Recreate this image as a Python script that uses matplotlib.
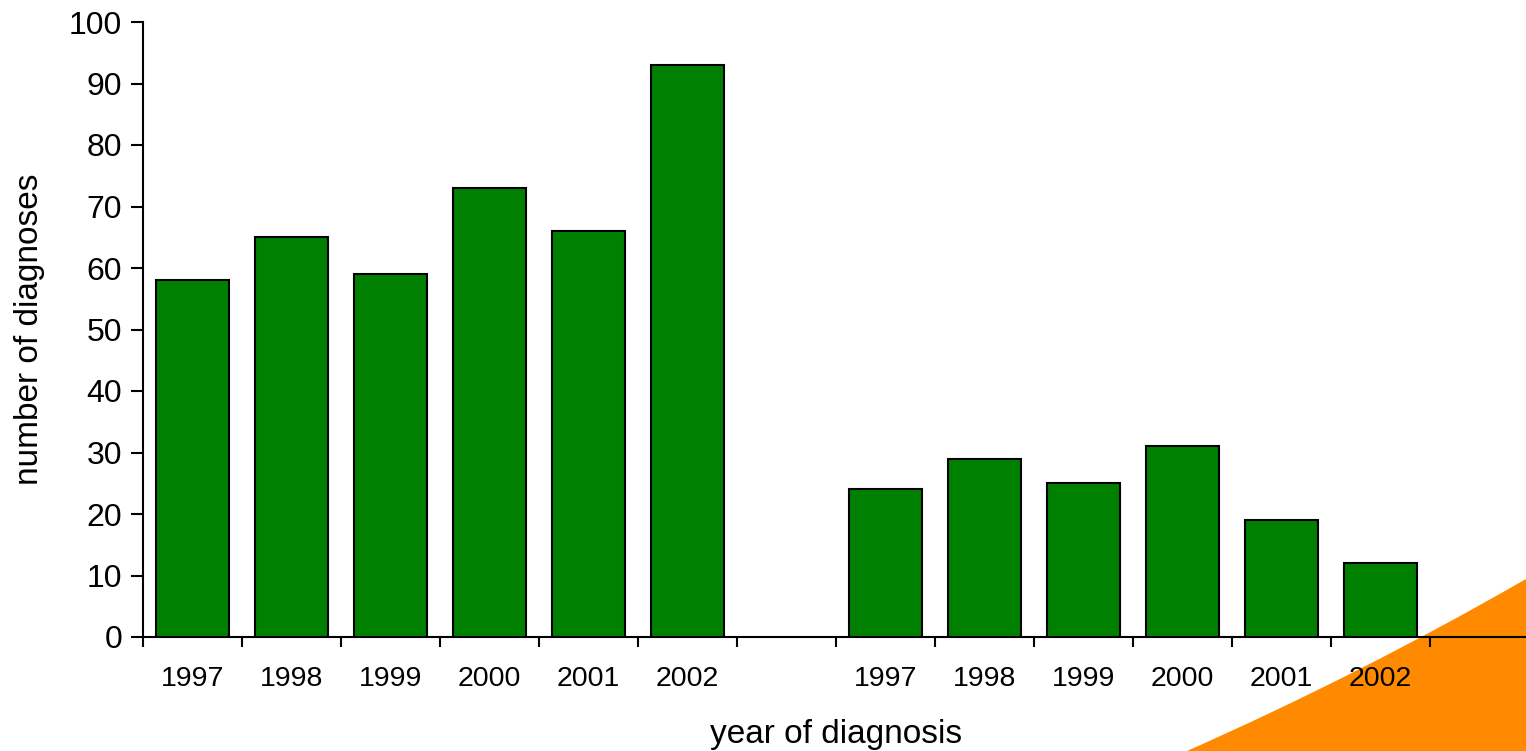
import matplotlib

matplotlib.use("Agg")
import matplotlib.pyplot as plt
import numpy as np
from matplotlib.patches import PathPatch
from matplotlib.path import Path

plt.rcParams["font.family"] = ["Liberation Sans", "DejaVu Sans"]

# two groups of years, separated by an empty slot
years = ["1997", "1998", "1999", "2000", "2001", "2002"]
group_a = [58, 65, 59, 73, 66, 93]
group_b = [24, 29, 25, 31, 19, 12]

W, H = 1526, 751
fig = plt.figure(figsize=(W / 100, H / 100), dpi=100)
ax = fig.add_axes([143 / W, 1 - 637 / H, 1 - 143 / W, (637 - 22) / H])
ax.set_facecolor("none")

labels = years + [""] + years
values = group_a + [np.nan] + group_b
x = np.arange(len(labels))
ax.bar(x, values, width=0.73, color="#008000", edgecolor="black",
       linewidth=1.5, zorder=3)

n = len(labels)
ax.set_xlim(-0.5, n - 0.5 + 96 / 99)
ax.set_ylim(0, 100)
ax.set_yticks(np.arange(0, 101, 10))
ax.set_xticks(np.arange(-0.5, n, 1.0))
ax.set_xticklabels([])
ax.set_xticks(x, minor=True)
ax.set_xticklabels(labels, minor=True, fontsize=20.5)
ax.tick_params(axis="x", which="minor", length=0, pad=21)
ax.tick_params(axis="x", which="major", direction="out", length=7, width=1.5)
ax.tick_params(axis="y", direction="out", length=9, width=1.5, labelsize=23, pad=6)

for side in ("top", "right"):
    ax.spines[side].set_visible(False)
for side in ("left", "bottom"):
    ax.spines[side].set_linewidth(1.5)

ax.set_ylabel("number of diagnoses", fontsize=24)
ax.yaxis.set_label_coords(-(143 - 30) / (W - 143), 0.5)
ax.set_xlabel("year of diagnosis", fontsize=24)
ax.xaxis.set_label_coords((836 - 143) / (W - 143), -(719 - 637) / (637 - 22))
ax.yaxis.label.set_va("center")

# decorative orange corner shape (figure pixel coords)
verts = [(1187, 751), (1361, 674), (1526, 579), (1526, 751), (1187, 751)]
codes = [Path.MOVETO, Path.CURVE3, Path.CURVE3, Path.LINETO, Path.CLOSEPOLY]
verts = [(vx / W, 1 - vy / H) for vx, vy in verts]
corner = PathPatch(Path(verts, codes), facecolor="#FF8A00", edgecolor="none",
                   transform=fig.transFigure, zorder=-1)
fig.add_artist(corner)

fig.savefig("out.png", dpi=100)
plt.close(fig)
